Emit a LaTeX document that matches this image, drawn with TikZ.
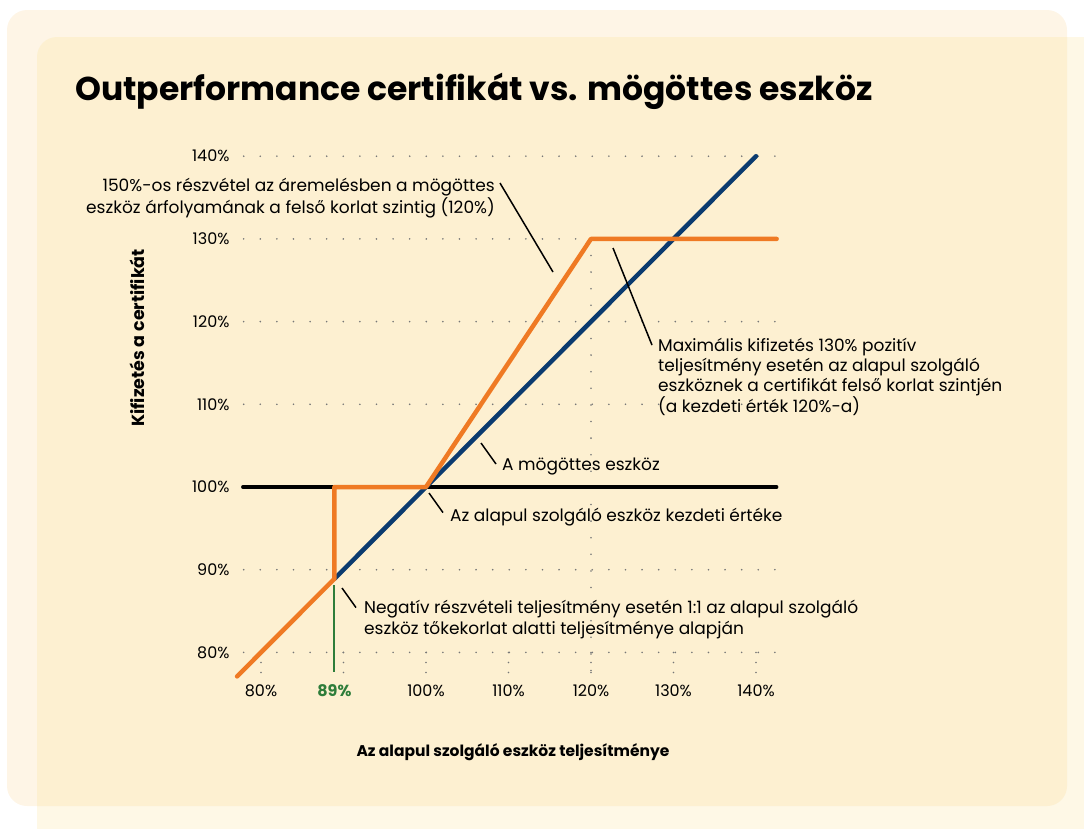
\documentclass[tikz,border=0pt]{standalone}
\usepackage{fontspec}
\setmainfont{Poppins}
\usepackage{xcolor}
\usepackage{tikz}

\definecolor{paperout}{HTML}{FEF5E6}
\definecolor{paperin}{HTML}{FEF8E6}
\definecolor{paper}{HTML}{FDF0D1}
\definecolor{certorange}{HTML}{EF7A24}
\definecolor{assetblue}{HTML}{0B3B6F}
\definecolor{barriergreen}{HTML}{2E7D3A}
\definecolor{gridgray}{HTML}{777777}

\begin{document}
\begin{tikzpicture}[x=1pt, y=-1pt,
    griddots/.style={draw=gridgray, line width=1.8pt, line cap=round, dash pattern=on 0pt off 16.6pt},
    tickdots/.style={draw=gridgray, line width=1.8pt, line cap=round, dash pattern=on 0pt off 10pt},
    payoff/.style={line width=4.5pt, line cap=round, line join=round},
    leader/.style={line width=1.5pt},
    ann/.style={inner sep=0pt, font=\fontsize{17}{20.3}\selectfont},
    ticklab/.style={inner sep=0pt, font=\fontsize{16}{18}\selectfont}]
  \useasboundingbox (0,0) rectangle (1084,828);
  % background cards
  \fill[paperout, rounded corners=20pt] (7,10) rectangle (1067,806);
  \fill[paperin, rounded corners=20pt] (37,37) rectangle (1110,850);
  \begin{scope}
    \clip[rounded corners=20pt] (7,10) rectangle (1067,806);
    \fill[paper, rounded corners=20pt] (37,37) rectangle (1110,850);
  \end{scope}

  \node[anchor=base west, inner sep=0pt, font=\fontsize{33}{38}\selectfont\bfseries] (title) at (75,100)
    {Outperformance certifikát vs. mögöttes eszköz};

  % chart in percent units
  \begin{scope}[shift={(-399,1314)}, x=8.25pt, y=8.27pt]
    \foreach \p in {80,90,110,120,130,140}
      \draw[griddots] (77.9,\p) -- (143,\p);
    \foreach \p in {80,90,...,140}
      \draw[tickdots] (\p,80) -- (\p,77.58);
    \draw[griddots] (120,130) -- (120,77.6);

    \foreach \p in {80,90,...,140}
      \node[ticklab, anchor=east] at (76.2,\p) {\p\%};
    \foreach \p in {80,100,110,120,130,140}
      \node[ticklab] at (\p,75.4) {\p\%};
    \node[ticklab, text=barriergreen, font=\fontsize{16}{18}\selectfont\bfseries] (barrierlab) at (88.9,75.4) {89\%};

    \coordinate (start) at (77.1,77.1);
    \coordinate (barrier) at (88.9,88.9);
    \coordinate (floor) at (88.9,100);
    \coordinate (strike) at (100,100);
    \coordinate (cap) at (120,130);
    \coordinate (capend) at (142.5,130);
    \coordinate (assetend) at (140,140);

    \draw[barriergreen, line width=2pt] (88.9,88.1) -- (88.9,77.6);
    \draw[line width=3.5pt, line cap=round] (77.8,100) -- (142.5,100);
    \draw[payoff, assetblue] (barrier) -- (assetend);
    \draw[payoff, certorange] (start) -- (barrier) -- (floor) -- (strike) -- (cap) -- (capend);
  \end{scope}

  % axis titles
  \node[rotate=90, font=\fontsize{17.5}{20}\selectfont\bfseries] (ytitle) at (137,338) {Kifizetés a certifikát};
  \node[font=\fontsize{15.5}{18}\selectfont\bfseries] (xtitle) at (513,752) {Az alapul szolgáló eszköz teljesítménye};

  % annotations
  \node[ann, anchor=base east, align=right] (uplift) at (495,213)
    {150\%-os részvétel az áremelésben a mögöttes\\eszköz árfolyamának a felső korlat szintig (120\%)};
  \node[ann, anchor=base west, align=left] (maxpay) at (658,412)
    {Maximális kifizetés 130\% pozitív\\teljesítmény esetén az alapul szolgáló\\eszköznek a certifikát felső korlat szintjén\\(a kezdeti érték 120\%-a)};
  \node[ann, anchor=base west] (underl) at (502,470) {A mögöttes eszköz};
  \node[ann, anchor=base west] (initval) at (450,521) {Az alapul szolgáló eszköz kezdeti értéke};
  \node[ann, anchor=base west, align=left] (negpart) at (364,634)
    {Negatív részvételi teljesítmény esetén 1:1 az alapul szolgáló\\eszköz tőkekorlat alatti teljesítménye alapján};

  \coordinate (uplift-tip) at (553,272);
  \coordinate (maxpay-tip) at (613,248);
  \coordinate (underl-tip) at (481,443);
  \coordinate (initval-tip) at (429,493);
  \coordinate (negpart-tip) at (342,588);

  \draw[leader] ([shift={(5,5)}]uplift.north east) -- (uplift-tip);
  \draw[leader] ([shift={(-6,7.5)}]maxpay.north west) -- (maxpay-tip);
  \draw[leader] ([shift={(-6,-2)}]underl.west) -- (underl-tip);
  \draw[leader] ([shift={(-7,-4)}]initval.west) -- (initval-tip);
  \draw[leader] ([shift={(-8,7.5)}]negpart.north west) -- (negpart-tip);
\end{tikzpicture}
\end{document}
